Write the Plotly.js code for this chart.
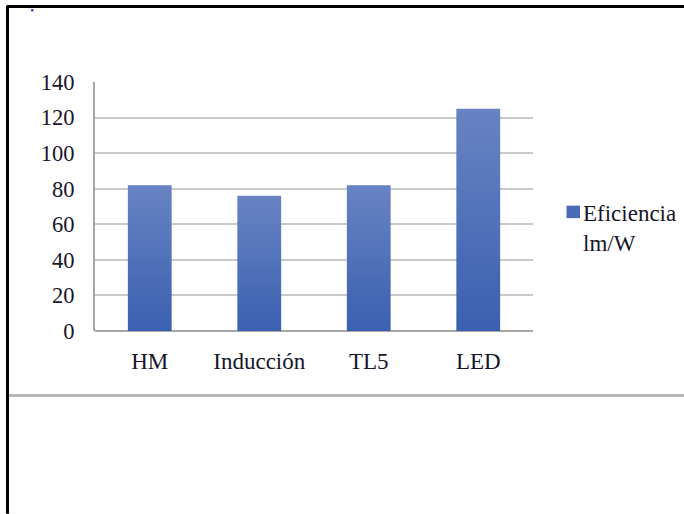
<!DOCTYPE html>
<html>
<head>
<meta charset="utf-8">
<script src="https://cdn.plot.ly/plotly-3.0.1.min.js"></script>
<style>
html,body{margin:0;padding:0;background:#fff;}
#chart{width:684px;height:514px;}
</style>
</head>
<body>
<div id="chart"></div>
<script>
const categories = ["HM", "Inducción", "TL5", "LED"];
const eficiencia = [82, 76, 82, 125];
const seriesName = "Eficiencia<br>lm/W";
const yTicks = [0, 20, 40, 60, 80, 100, 120, 140];

const L = 95, R = 533, T = 81.7, B = 331;
const W = 684, H = 514;
const px = v => (v - L) / (R - L);
const py = v => (B - v) / (B - T);

const font = "'Liberation Serif', 'Times New Roman', 'DejaVu Serif', serif";
const txtColor = "#16162a";
const barColor = "#4a6cb8";

const trace = {
  type: "bar",
  x: categories,
  y: eficiencia,
  name: seriesName,
  showlegend: false,
  marker: {color: barColor, line: {width: 0}},
  hoverinfo: "skip"
};

const layout = {
  width: W, height: H,
  margin: {l: L, r: W - R, t: T, b: H - B, pad: 0},
  paper_bgcolor: "#fff",
  plot_bgcolor: "#fff",
  bargap: 0.6,
  font: {family: font, size: 23, color: txtColor},
  xaxis: {
    type: "category",
    showgrid: false,
    showline: false,
    zeroline: false,
    ticks: "",
    ticklabelstandoff: 14,
    tickfont: {family: font, size: 23, color: txtColor},
    fixedrange: true
  },
  yaxis: {
    range: [0, 140],
    tickvals: yTicks,
    ticktext: yTicks.map(String),
    showgrid: true,
    gridcolor: "#c9c9c9",
    gridwidth: 2,
    zeroline: true,
    zerolinecolor: "#a6a6a6",
    zerolinewidth: 2,
    showline: true,
    linecolor: "#a6a6a6",
    linewidth: 2,
    ticks: "",
    ticklabelstandoff: 14,
    tickfont: {family: font, size: 22.5, color: txtColor},
    fixedrange: true
  },
  showlegend: false,
  annotations: [
    {xref: "paper", yref: "paper", x: px(580.5), y: py(199), xanchor: "left", yanchor: "top",
     text: seriesName, showarrow: false, align: "left",
     font: {family: font, size: 23, color: txtColor}}
  ],
  shapes: [
    {type: "rect", xref: "paper", yref: "paper", x0: px(566.5), x1: px(580), y0: py(205.5), y1: py(218), fillcolor: barColor, line: {width: 0}},
    {type: "line", xref: "paper", yref: "paper", x0: px(7), x1: px(684), y0: py(6), y1: py(6), line: {color: "#000", width: 3}},
    {type: "line", xref: "paper", yref: "paper", x0: px(7.5), x1: px(7.5), y0: py(5), y1: py(514), line: {color: "#000", width: 3}},
    {type: "line", xref: "paper", yref: "paper", x0: px(9), x1: px(684), y0: py(395.5), y1: py(395.5), line: {color: "#b8b8b8", width: 3}},
    {type: "circle", xref: "paper", yref: "paper", x0: px(31), x1: px(33.5), y0: py(8.5), y1: py(11), fillcolor: "#3030e0", line: {width: 0}}
  ]
};

Plotly.newPlot("chart", [trace], layout, {staticPlot: true, displayModeBar: false}).then(gd => {
  const svg = gd.querySelector("svg.main-svg");
  const ns = "http://www.w3.org/2000/svg";
  let defs = svg.querySelector("defs");
  if (!defs) { defs = document.createElementNS(ns, "defs"); svg.insertBefore(defs, svg.firstChild); }
  const g = document.createElementNS(ns, "linearGradient");
  g.setAttribute("id", "barGrad");
  g.setAttribute("x1", "0"); g.setAttribute("y1", "0");
  g.setAttribute("x2", "0"); g.setAttribute("y2", "1");
  [["0", "#6883c3"], ["1", "#3a60b0"]].forEach(([o, c]) => {
    const s = document.createElementNS(ns, "stop");
    s.setAttribute("offset", o); s.setAttribute("stop-color", c);
    g.appendChild(s);
  });
  defs.appendChild(g);
  gd.querySelectorAll(".barlayer .point path").forEach(p => {
    p.style.fill = "url(#barGrad)";
  });
});
</script>
</body>
</html>
